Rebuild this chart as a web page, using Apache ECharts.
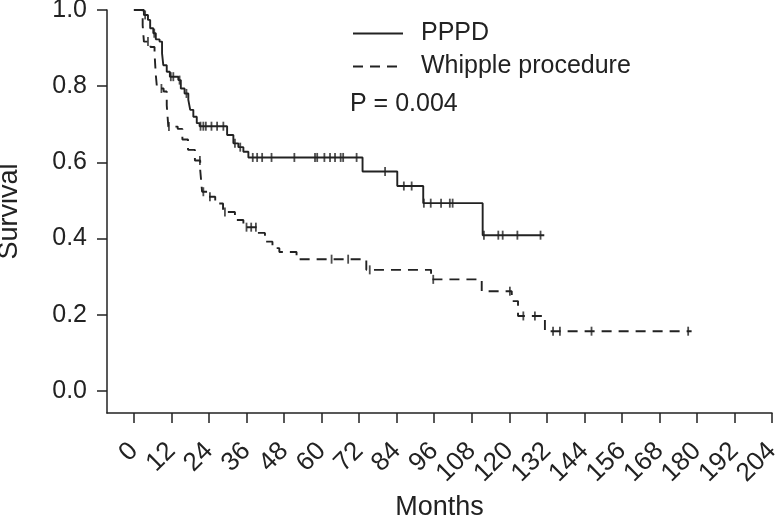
<!DOCTYPE html>
<html>
<head>
<meta charset="utf-8">
<script src="https://cdn.jsdelivr.net/npm/echarts@6/dist/echarts.min.js"></script>
<style>
html,body{margin:0;padding:0;background:#fff;}
#chart{width:779px;height:515px;}
</style>
</head>
<body>
<div id="chart"></div>
<script>
// ---- Data ----
const seriesNames = ['PPPD', 'Whipple procedure'];
const pValueText = 'P = 0.004';

// PPPD Kaplan-Meier steps (time in months, survival after the step)
const pppdTime = [0, 3.2, 4.5, 5.2, 6.2, 7, 8.2, 9, 9.4, 10.5, 11.5, 14.2, 15, 16.2, 17.4, 18, 19, 20.1, 21, 29.8, 31.8, 33.4, 35, 36.6, 73.1, 84.2, 92.5, 111.5, 131.2];
const pppdSurv = [1.0, 0.987, 0.974, 0.952, 0.939, 0.923, 0.917, 0.886, 0.855, 0.838, 0.825, 0.816, 0.794, 0.781, 0.764, 0.738, 0.72, 0.703, 0.695, 0.672, 0.65, 0.64, 0.628, 0.613, 0.576, 0.538, 0.493, 0.409, 0.409];
// PPPD censored observations
const pppdCensorTime = [3.6, 6.5, 11.8, 12.6, 14.6, 16.8, 21.3, 22.2, 23, 24.8, 26.6, 28.6, 32.3, 34, 38, 39.4, 41, 44, 51.3, 57.9, 58.6, 60.9, 62.7, 64.3, 66.1, 66.9, 71.2, 80.3, 86.3, 88.8, 92.7, 94.9, 98.2, 101, 101.9, 111.9, 116.5, 117.9, 122.6, 130];
const pppdCensorSurv = [0.987, 0.939, 0.825, 0.825, 0.816, 0.781, 0.695, 0.695, 0.695, 0.695, 0.695, 0.695, 0.65, 0.64, 0.613, 0.613, 0.613, 0.613, 0.613, 0.613, 0.613, 0.613, 0.613, 0.613, 0.613, 0.613, 0.613, 0.576, 0.538, 0.538, 0.493, 0.493, 0.493, 0.493, 0.493, 0.409, 0.409, 0.409, 0.409, 0.409];

// Whipple procedure Kaplan-Meier steps
const whipTime = [0, 2.8, 3.2, 5.3, 6.6, 7, 7.4, 9.5, 10.5, 11, 14, 15.5, 17.3, 19.5, 21.2, 21.8, 23.5, 26, 28.5, 32.3, 35, 39.3, 41.9, 44.3, 46.5, 52, 74.3, 95, 111.2, 120.8, 122.8, 131.4, 178.3];
const whipSurv = [1.0, 0.96, 0.917, 0.903, 0.886, 0.83, 0.794, 0.786, 0.75, 0.694, 0.688, 0.66, 0.633, 0.605, 0.58, 0.523, 0.51, 0.492, 0.47, 0.449, 0.43, 0.415, 0.392, 0.375, 0.365, 0.346, 0.318, 0.293, 0.262, 0.236, 0.197, 0.157, 0.157];
// Whipple censored observations
const whipCensorTime = [4.5, 8.8, 11.2, 21.1, 22.2, 24.3, 29.1, 36, 37.5, 39, 63.2, 68.5, 75.4, 95.7, 120.2, 124.5, 128.2, 134, 136.2, 146.3, 177.2];
const whipCensorSurv = [0.917, 0.794, 0.694, 0.605, 0.523, 0.51, 0.47, 0.43, 0.43, 0.43, 0.346, 0.346, 0.318, 0.293, 0.262, 0.197, 0.197, 0.157, 0.157, 0.157, 0.157];

// Axis ticks
const xTicks = [0, 12, 24, 36, 48, 60, 72, 84, 96, 108, 120, 132, 144, 156, 168, 180, 192, 204];
const yTicks = [0, 0.2, 0.4, 0.6, 0.8, 1.0];
const yTickLabels = ['0.0', '0.2', '0.4', '0.6', '0.8', '1.0'];
const xAxisTitle = 'Months';
const yAxisTitle = 'Survival';

// ---- Chart ----
const INK = '#222222';
const FONT = '"Liberation Sans", Arial, Helvetica, sans-serif';
const zip = (a, b) => a.map((v, i) => [v, b[i]]);

const chart = echarts.init(document.getElementById('chart'), null, {renderer: 'canvas'});
chart.setOption({
  animation: false,
  backgroundColor: '#ffffff',
  textStyle: {fontFamily: FONT, color: INK},
  grid: {left: 107, right: 7, top: 10, bottom: 102, containLabel: false, outerBoundsMode: 'none'},
  legend: {
    data: seriesNames,
    orient: 'vertical',
    left: 352,
    top: 21,
    padding: 0,
    itemWidth: 50,
    itemHeight: 14,
    itemGap: 8,
    itemStyle: {opacity: 0},
    textStyle: {fontFamily: FONT, fontSize: 25, color: INK, padding: [0, 0, 0, 13]}
  },
  graphic: [{
    type: 'text',
    left: 350,
    top: 92,
    style: {text: pValueText, font: '25px ' + FONT, fill: INK}
  }],
  xAxis: {
    type: 'value',
    min: -8.6,
    max: 204,
    name: xAxisTitle,
    nameLocation: 'middle',
    nameGap: 77,
    nameTextStyle: {fontFamily: FONT, fontSize: 27, color: INK},
    axisLine: {show: true, onZero: false, lineStyle: {color: INK, width: 1.5}},
    axisTick: {show: true, customValues: xTicks, length: 10, lineStyle: {color: INK, width: 1.5}},
    axisLabel: {customValues: xTicks, rotate: 45, margin: 34, fontFamily: FONT, fontSize: 26, color: INK},
    splitLine: {show: false}
  },
  yAxis: {
    type: 'value',
    min: -0.0577,
    max: 1.0,
    name: yAxisTitle,
    nameLocation: 'middle',
    nameGap: 84,
    nameTextStyle: {fontFamily: FONT, fontSize: 27, color: INK},
    axisLine: {show: true, onZero: false, lineStyle: {color: INK, width: 1.5}},
    axisTick: {show: true, customValues: yTicks, length: 10, lineStyle: {color: INK, width: 1.5}},
    axisLabel: {
      customValues: yTicks, margin: 20, fontFamily: FONT, fontSize: 25, color: INK,
      formatter: v => yTickLabels[yTicks.findIndex(t => Math.abs(t - v) < 1e-9)] ?? v.toFixed(1)
    },
    splitLine: {show: false}
  },
  series: [
    {
      name: seriesNames[0], type: 'line', step: 'end', symbol: 'none', showSymbol: false,
      data: zip(pppdTime, pppdSurv),
      lineStyle: {color: INK, width: 1.9, type: 'solid'},
      itemStyle: {color: INK}, z: 3
    },
    {
      name: seriesNames[1], type: 'line', step: 'end', symbol: 'none', showSymbol: false,
      data: zip(whipTime, whipSurv),
      lineStyle: {color: INK, width: 1.9, type: [10, 7]},
      itemStyle: {color: INK}, z: 3
    },
    {
      name: 'PPPD censored', type: 'scatter', symbol: 'rect', symbolSize: [1.8, 9],
      data: zip(pppdCensorTime, pppdCensorSurv), itemStyle: {color: INK}, z: 4
    },
    {
      name: 'Whipple censored', type: 'scatter', symbol: 'rect', symbolSize: [1.8, 9],
      data: zip(whipCensorTime, whipCensorSurv), itemStyle: {color: INK}, z: 4
    }
  ]
});
</script>
</body>
</html>
